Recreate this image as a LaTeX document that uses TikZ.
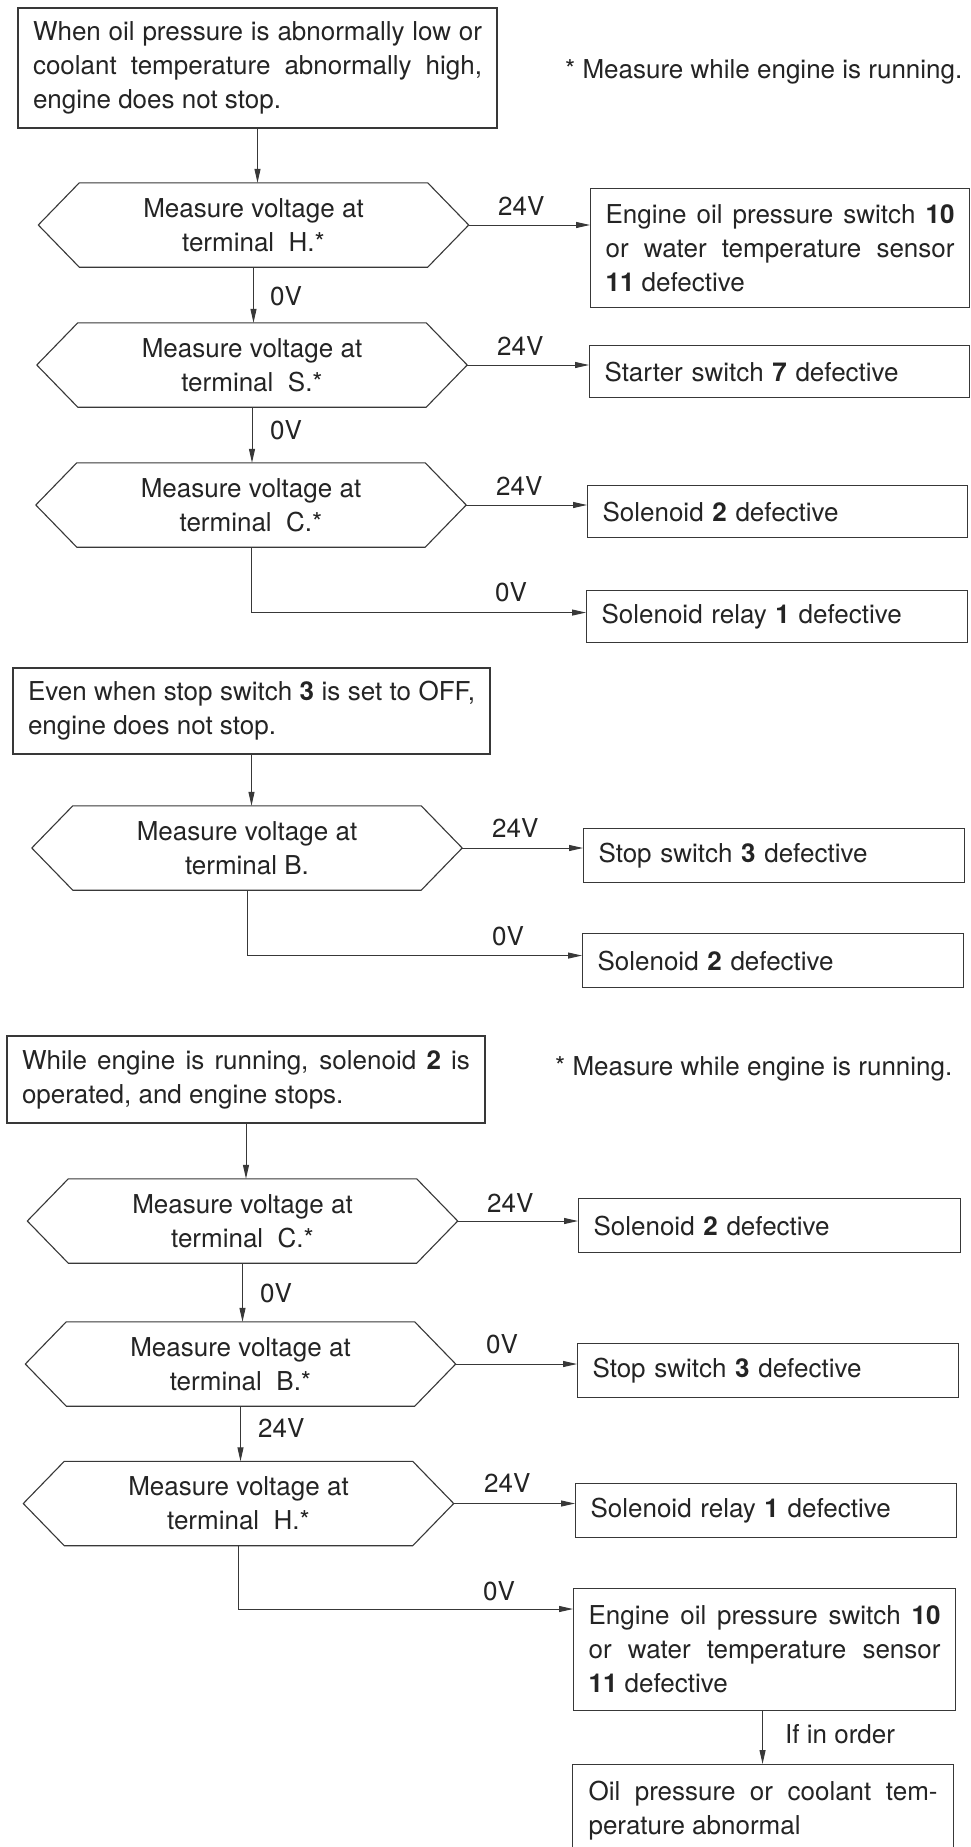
\documentclass[tikz,border=0pt]{standalone}
\usepackage{fontspec}
\setmainfont{TeX Gyre Heros}
\usetikzlibrary{arrows.meta}
\definecolor{ink}{HTML}{242424}
\definecolor{linec}{HTML}{383838}
\newcommand{\myfs}{\fontsize{26pt}{34pt}\selectfont}
\newcommand{\hexframe}[1]{\draw[hexline] (#1.north west) -- (#1.north east) -- ([xshift=41pt]#1.east) coordinate (#1r) -- (#1.south east) -- (#1.south west) -- ([xshift=-41pt]#1.west) -- cycle;}
\begin{document}
\begin{tikzpicture}[x=1pt,y=-1pt,
  startbox/.style={draw=linec, line width=2pt, anchor=north west, inner sep=0pt, inner xsep=15pt, align=justify, font=\myfs, text=ink},
  resbox/.style={draw=linec, line width=1.1pt, anchor=north west, inner sep=0pt, inner xsep=15pt, font=\myfs, text=ink},
  hexa/.style={minimum width=348pt, minimum height=84pt, inner sep=0pt, align=center, font=\myfs, text=ink},
  hexline/.style={draw=linec, line width=1.1pt, line join=miter},
  arr/.style={draw=linec, line width=1pt, -{Triangle[length=14pt,width=6pt]}},
  lab/.style={font=\myfs, text=ink, inner sep=0pt, anchor=base west}]
\fill[white] (0,0) rectangle (970,1847);
\clip (0,0) rectangle (970,1847);
\useasboundingbox (0,0) rectangle (970,1847);

% ---------- Section 1 ----------
\node[startbox, text width=449pt, minimum width=479pt, minimum height=120pt] (s1) at (17,7)
  {When oil pressure is abnormally low or\linebreak coolant temperature abnormally high,\linebreak engine does not stop.};
\node[lab] (fn1) at (565,78) {* Measure while engine is running.};

\node[hexa] (d1) at (253.5,225) {Measure voltage at\\terminal\ \ H.*};
\hexframe{d1}
\node[hexa] (d2) at (252,365) {Measure voltage at\\terminal\ \ S.*};
\hexframe{d2}
\node[hexa] (d3) at (251,505) {Measure voltage at\\terminal\ \ C.*};
\hexframe{d3}

\node[resbox, text width=349pt, minimum width=379pt, minimum height=119pt, align=justify] (r1) at (590,188)
  {Engine oil pressure switch \textbf{10}\linebreak or water temperature sensor\linebreak \textbf{11} defective};
\node[resbox, text width=350pt, minimum width=380pt, minimum height=52pt, align=left] (r2) at (589,345)
  {Starter switch \textbf{7} defective};
\node[resbox, text width=350pt, minimum width=380pt, minimum height=52pt, align=left] (r3) at (587,485)
  {Solenoid \textbf{2} defective};
\node[resbox, text width=351pt, minimum width=381pt, minimum height=52pt, align=left] (r4) at (586,590)
  {Solenoid relay \textbf{1} defective};

\draw[arr] (s1.south) -- (s1.south |- d1.north);
\draw[arr] (d1.south) -- (d1.south |- d2.north);
\draw[arr] (d2.south) -- (d2.south |- d3.north);
\draw[arr] (d1r) -- (d1r -| r1.west);
\draw[arr] (d2r) -- (d2r -| r2.west);
\draw[arr] (d3r) -- (d3r -| r3.west);
\draw[arr] (d3.south) |- ([yshift=4pt]r4.west);

\node[lab] (l1) at (270,305) {0V};
\node[lab] (l2) at (270,439) {0V};
\node[lab] (l3) at (498,215) {24V};
\node[lab] (l4) at (497,355) {24V};
\node[lab] (l5) at (496,495) {24V};
\node[lab] (l6) at (495,601) {0V};

% ---------- Section 2 ----------
\node[startbox, text width=447pt, minimum width=477pt, minimum height=86pt] (s2) at (12,667)
  {Even when stop switch \textbf{3} is set to OFF,\linebreak engine does not stop.};
\node[hexa] (d4) at (247,848) {Measure voltage at\\terminal B.};
\hexframe{d4}
\node[resbox, text width=351pt, minimum width=381pt, minimum height=54pt, align=left] (r5) at (583,828)
  {Stop switch \textbf{3} defective};
\node[resbox, text width=351pt, minimum width=381pt, minimum height=54pt, align=left] (r6) at (582,933)
  {Solenoid \textbf{2} defective};

\draw[arr] (s2.south) -- (s2.south |- d4.north);
\draw[arr] (d4r) -- (d4r -| r5.west);
\draw[arr] (d4.south) |- ([yshift=5pt]r6.west);
\node[lab] (l7) at (492,837) {24V};
\node[lab] (l8) at (492,945) {0V};

% ---------- Section 3 ----------
\node[startbox, text width=448pt, minimum width=478pt, minimum height=87pt] (s3) at (6,1035)
  {While engine is running, solenoid \textbf{2} is\linebreak operated, and engine stops.};
\node[lab] (fn2) at (555,1075) {* Measure while engine is running.};

\node[hexa] (d5) at (242.5,1221) {Measure voltage at\\terminal\ \ C.*};
\hexframe{d5}
\node[hexa] (d6) at (240.5,1364) {Measure voltage at\\terminal\ \ B.*};
\hexframe{d6}
\node[hexa] (d7) at (238.5,1503.5) {Measure voltage at\\terminal\ \ H.*};
\hexframe{d7}

\node[resbox, text width=352pt, minimum width=382pt, minimum height=54pt, align=left] (r7) at (578,1198)
  {Solenoid \textbf{2} defective};
\node[resbox, text width=351pt, minimum width=381pt, minimum height=54pt, align=left] (r8) at (577,1343)
  {Stop switch \textbf{3} defective};
\node[resbox, text width=351pt, minimum width=381pt, minimum height=54pt, align=left] (r9) at (575,1483)
  {Solenoid relay \textbf{1} defective};
\node[resbox, text width=352pt, minimum width=382pt, minimum height=122pt, align=justify] (r10) at (573,1588)
  {Engine oil pressure switch \textbf{10}\linebreak or water temperature sensor\linebreak \textbf{11} defective};
\node[resbox, text width=349pt, minimum width=381pt, minimum height=92pt, align=justify] (r11) at (572,1764)
  {Oil pressure or coolant tem-\linebreak perature abnormal};

\draw[arr] (s3.south) -- (s3.south |- d5.north);
\draw[arr] (d5.south) -- (d5.south |- d6.north);
\draw[arr] (d6.south) -- (d6.south |- d7.north);
\draw[arr] (d5r) -- (d5r -| r7.west);
\draw[arr] (d6r) -- (d6r -| r8.west);
\draw[arr] (d7r) -- (d7r -| r9.west);
\draw[arr] (d7.south) |- ([yshift=-21pt]r10.north west);
\draw[arr] ([xshift=-2pt]r10.south) -- ([xshift=-2pt]r10.south |- r11.north);

\node[lab] (l9) at (260,1302) {0V};
\node[lab] (l10) at (258,1437) {24V};
\node[lab] (l11) at (487,1212) {24V};
\node[lab] (l12) at (486,1353) {0V};
\node[lab] (l13) at (484,1492) {24V};
\node[lab] (l14) at (483,1600) {0V};
\node[lab] (l15) at (785,1743) {If in order};
\end{tikzpicture}
\end{document}
